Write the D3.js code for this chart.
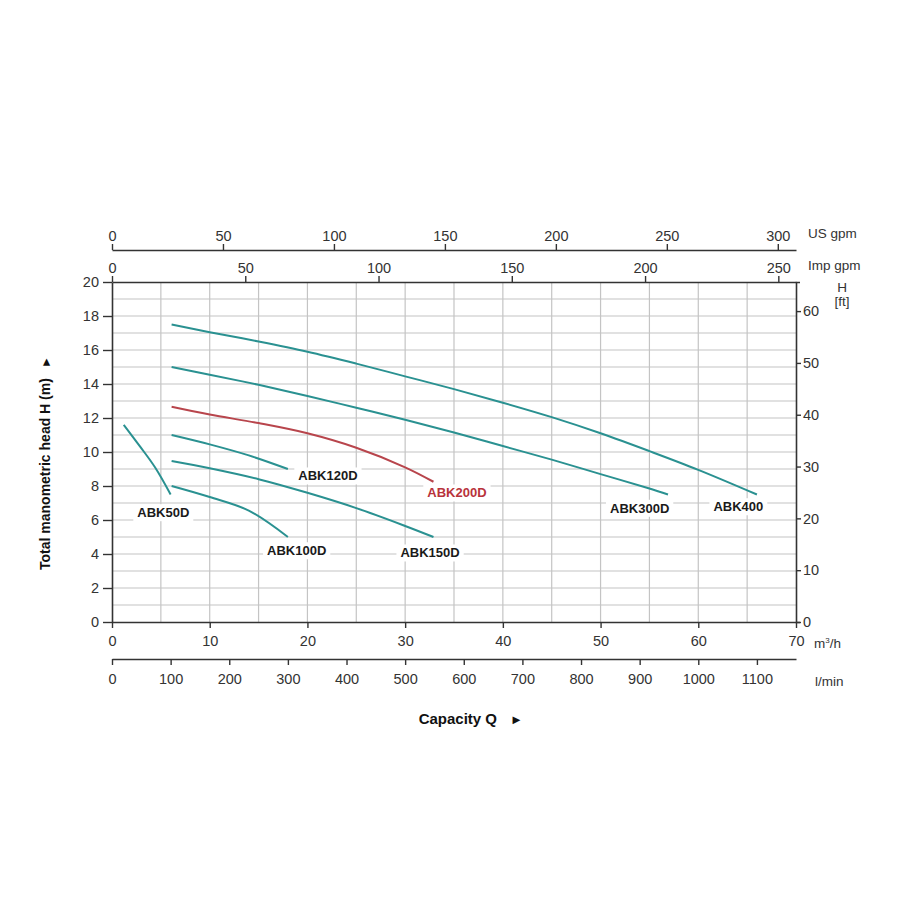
<!DOCTYPE html>
<html><head><meta charset="utf-8">
<script src="https://cdn.jsdelivr.net/npm/d3@7"></script>
<style>
html,body{margin:0;padding:0;background:#fff;}
svg text{font-family:"Liberation Sans",Arial,sans-serif;}
</style></head>
<body>
<svg id="chart" width="900" height="900"></svg>
<script>
// ---- data ----
const abk50Q  = [1.2, 2.9, 4.4, 6.0];
const abk50H  = [11.6, 10.3, 9.1, 7.5];
const abk100Q = [6.1, 10, 14, 18];
const abk100H = [8.0, 7.35, 6.55, 5.0];
const abk120Q = [6.1, 10, 14, 18];
const abk120H = [11.0, 10.45, 9.8, 9.0];
const abk150Q = [6.1, 10, 15, 20, 25, 30, 32.9];
const abk150H = [9.47, 9.04, 8.4, 7.6, 6.7, 5.65, 5.0];
const abk200Q = [6.1, 10, 15, 20, 25, 30, 32.9];
const abk200H = [12.66, 12.2, 11.7, 11.1, 10.25, 9.1, 8.25];
const abk300Q = [6.1, 10, 15, 20, 25, 30, 35, 40, 45, 50, 55, 56.9];
const abk300H = [15.0, 14.55, 13.95, 13.3, 12.6, 11.9, 11.15, 10.35, 9.55, 8.7, 7.85, 7.5];
const abk400Q = [6.1, 10, 15, 20, 25, 30, 35, 40, 45, 50, 55, 60, 66];
const abk400H = [17.5, 17.05, 16.5, 15.9, 15.2, 14.45, 13.7, 12.9, 12.05, 11.1, 10.05, 8.95, 7.5];

const seriesNames = ["ABK50D","ABK100D","ABK120D","ABK150D","ABK200D","ABK300D","ABK400"];
const seriesQ = [abk50Q, abk100Q, abk120Q, abk150Q, abk200Q, abk300Q, abk400Q];
const seriesH = [abk50H, abk100H, abk120H, abk150H, abk200H, abk300H, abk400H];
// label anchor (Q, H) for each series name
const labelQ = [5.25, 18.9, 22.1, 32.55, 35.3, 54.0, 64.1];
const labelH = [6.43, 4.19, 8.59, 4.06, 7.59, 6.69, 6.78];

const m3hTicks   = [0,10,20,30,40,50,60,70];
const lminTicks  = [0,100,200,300,400,500,600,700,800,900,1000,1100];
const usgpmTicks = [0,50,100,150,200,250,300];
const impgpmTicks= [0,50,100,150,200,250];
const hmTicks    = [0,2,4,6,8,10,12,14,16,18,20];
const hftTicks   = [0,10,20,30,40,50,60];

// ---- drawing ----
const svg = d3.select("#chart");
const X0 = 112, X1 = 796, Y0 = 622, Y1 = 282;
const x = d3.scaleLinear().domain([0,70]).range([X0,X1]);
const y = d3.scaleLinear().domain([0,20]).range([Y0,Y1]);
const xL = d3.scaleLinear().domain([0,70*1000/60]).range([X0,X1]);
const xUS = d3.scaleLinear().domain([0,70*4.40287]).range([X0,X1]);
const xImp = d3.scaleLinear().domain([0,70*3.66615]).range([X0,X1]);
const yFt = d3.scaleLinear().domain([0,20/0.3048]).range([Y0,Y1]);

const ink = "#333";
const gridC = "#c4c4c4";
const fmt = d3.format("d");

// grid
const g = svg.append("g");
g.selectAll("line.h").data(d3.range(1,20)).join("line")
  .attr("x1",X0).attr("x2",X1).attr("y1",d=>y(d)).attr("y2",d=>y(d))
  .attr("stroke",gridC).attr("stroke-width",1.2);
g.selectAll("line.v").data(d3.range(5,70,5)).join("line")
  .attr("y1",Y1).attr("y2",Y0).attr("x1",d=>x(d)).attr("x2",d=>x(d))
  .attr("stroke",gridC).attr("stroke-width",1.2);

function styleAxis(sel){
  sel.selectAll(".domain").attr("stroke",ink).attr("stroke-width",1.6);
  sel.selectAll(".tick line").attr("stroke",ink).attr("stroke-width",1.4);
  sel.selectAll(".tick text").attr("fill",ink).style("font-size","14.5px")
     .style("font-family",'"Liberation Sans",Arial,sans-serif');
}
function minor(axisGen, scale, vals, len){
  return d3[axisGen](scale).tickValues(vals).tickSize(len).tickFormat("");
}

// left axis (H m)
const la = svg.append("g").attr("transform",`translate(${X0},0)`);
la.call(minor("axisLeft", y, d3.range(1,20,2), 5));
la.call(d3.axisLeft(y).tickValues(hmTicks).tickFormat(fmt).tickSize(9).tickPadding(4).tickSizeOuter(0));
styleAxis(la);

// right axis (H ft)
const ra = svg.append("g").attr("transform",`translate(${X1},0)`);
ra.call(minor("axisRight", yFt, [5,15,25,35,45,55,65], 3));
ra.call(d3.axisRight(yFt).tickValues(hftTicks).tickFormat(fmt).tickSize(5).tickPadding(2).tickSizeOuter(4));
styleAxis(ra);

// bottom m3/h axis
const ba = svg.append("g").attr("transform",`translate(0,${Y0})`);
ba.call(minor("axisBottom", x, d3.range(5,70,10), 4));
ba.call(d3.axisBottom(x).tickValues(m3hTicks).tickFormat(fmt).tickSize(6).tickPadding(8).tickSizeOuter(0));
styleAxis(ba);

// l/min axis
const lm = svg.append("g").attr("transform",`translate(0,659)`);
lm.call(minor("axisBottom", xL, d3.range(50,1200,100), 3));
lm.call(d3.axisBottom(xL).tickValues(lminTicks).tickFormat(fmt).tickSize(6).tickPadding(9).tickSizeOuter(0));
styleAxis(lm);

// Imp gpm axis (top of plot)
const ia = svg.append("g").attr("transform",`translate(0,${Y1})`);
ia.call(minor("axisTop", xImp, d3.range(25,260,50), 3));
ia.call(d3.axisTop(xImp).tickValues(impgpmTicks).tickFormat(fmt).tickSize(6).tickPadding(3).tickSizeOuter(0));
styleAxis(ia);

// US gpm axis
const ua = svg.append("g").attr("transform",`translate(0,250)`);
ua.call(minor("axisTop", xUS, d3.range(25,310,50), 3));
ua.call(d3.axisTop(xUS).tickValues(usgpmTicks).tickFormat(fmt).tickSize(6).tickPadding(3).tickSizeOuter(0));
styleAxis(ua);

// unit labels
const unit = (tx,ty,t,anchor)=>svg.append("text").attr("x",tx).attr("y",ty)
  .attr("text-anchor",anchor||"start").attr("fill",ink).style("font-size","13.5px").text(t);
unit(808,238,"US gpm");
unit(808,270,"Imp gpm");
unit(842,292,"H","middle");
unit(842,306,"[ft]","middle");
const m3 = unit(814,648,"m");
m3.append("tspan").attr("dy",-5).style("font-size","8px").text("3");
m3.append("tspan").attr("dy",5).text("/h");
unit(815,686,"l/min");

// axis titles
svg.append("text").attr("x",497).attr("y",724).attr("text-anchor","end")
  .attr("fill","#111").style("font-size","15px").style("font-weight","bold").text("Capacity Q");
svg.append("text").attr("x",510).attr("y",724)
  .attr("fill","#111").style("font-size","13px").text("►");
svg.append("text").attr("transform","translate(50,570) rotate(-90)")
  .attr("fill","#111").style("font-size","14px").style("font-weight","bold")
  .text("Total manometric head H (m)")
  .append("tspan").attr("dx",10).style("font-size","12px").style("font-weight","normal").text("►");

// curves
const line = d3.line().x(d=>x(d[0])).y(d=>y(d[1])).curve(d3.curveCatmullRom.alpha(0.5));
const colorFor = n => n==="ABK200D" ? "#b8454c" : "#2a9191";
seriesNames.forEach((n,i)=>{
  const pts = seriesQ[i].map((q,j)=>[q, seriesH[i][j]]);
  svg.append("path").datum(pts).attr("d",line)
    .attr("fill","none").attr("stroke",colorFor(n)).attr("stroke-width",2);
});

// labels with white boxes
seriesNames.forEach((n,i)=>{
  const lg = svg.append("g");
  const t = lg.append("text").attr("x",x(labelQ[i])).attr("y",y(labelH[i]))
    .attr("text-anchor","middle").attr("dominant-baseline","central")
    .attr("fill", n==="ABK200D" ? "#b8333b" : "#1a1a1a")
    .style("font-size","13px").style("font-weight","bold").text(n);
  const bb = t.node().getBBox();
  lg.insert("rect","text").attr("x",bb.x-4).attr("y",bb.y-1)
    .attr("width",bb.width+8).attr("height",bb.height+2).attr("fill","#fff");
});
</script>
</body></html>
